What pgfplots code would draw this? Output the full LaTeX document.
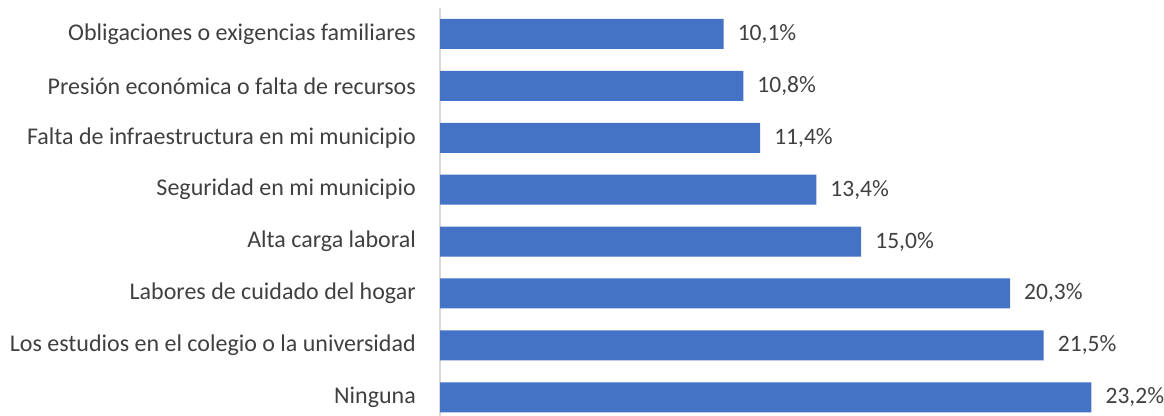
\documentclass[border=0pt]{standalone}
\usepackage{pgfplots}
\pgfplotsset{compat=1.18}
\usepackage{fontspec}
\setmainfont{Carlito}
\definecolor{barblue}{HTML}{4472C4}
\definecolor{txt}{HTML}{404040}
\definecolor{axisgray}{HTML}{D9D9D9}
\begin{document}
\begin{tikzpicture}[x=1pt,y=1pt]
\begin{axis}[
  at={(440pt,-8pt)}, anchor=north west,
  scale only axis, width=702pt, height=415.2pt,
  xmin=0, xmax=25, ymin=-0.5, ymax=7.5,
  xbar, bar width=30pt,
  axis x line=none,
  axis y line=left,
  axis line style={-, draw=axisgray, line width=1.2pt},
  ytick={0,...,7},
  yticklabels={Ninguna, Los estudios en el colegio o la universidad, Labores de cuidado del hogar, Alta carga laboral, Seguridad en mi municipio, Falta de infraestructura en mi municipio, Presión económica o falta de recursos, Obligaciones o exigencias familiares},
  major tick length=0pt,
  ytick style={draw=none},
  yticklabel style={font=\fontsize{24}{28}\selectfont, text=txt, inner sep=0pt, xshift=-24pt},
  /pgf/number format/assume math mode=true,
  nodes near coords={\pgfmathprintnumber[fixed,fixed zerofill,precision=1,use comma,assume math mode=true]{\pgfplotspointmeta}\%},
  nodes near coords style={font=\fontsize{23.5}{28}\selectfont, text=txt, anchor=west, inner sep=0pt, xshift=14pt},
  clip=false,
]
\addplot[fill=barblue, draw=none] coordinates {
  (23.2,0) (21.5,1) (20.3,2) (15.0,3) (13.4,4) (11.4,5) (10.8,6) (10.1,7)
};
\end{axis}
\pgfresetboundingbox
\path (0,0) rectangle (1164,-415);
\end{tikzpicture}
\end{document}
